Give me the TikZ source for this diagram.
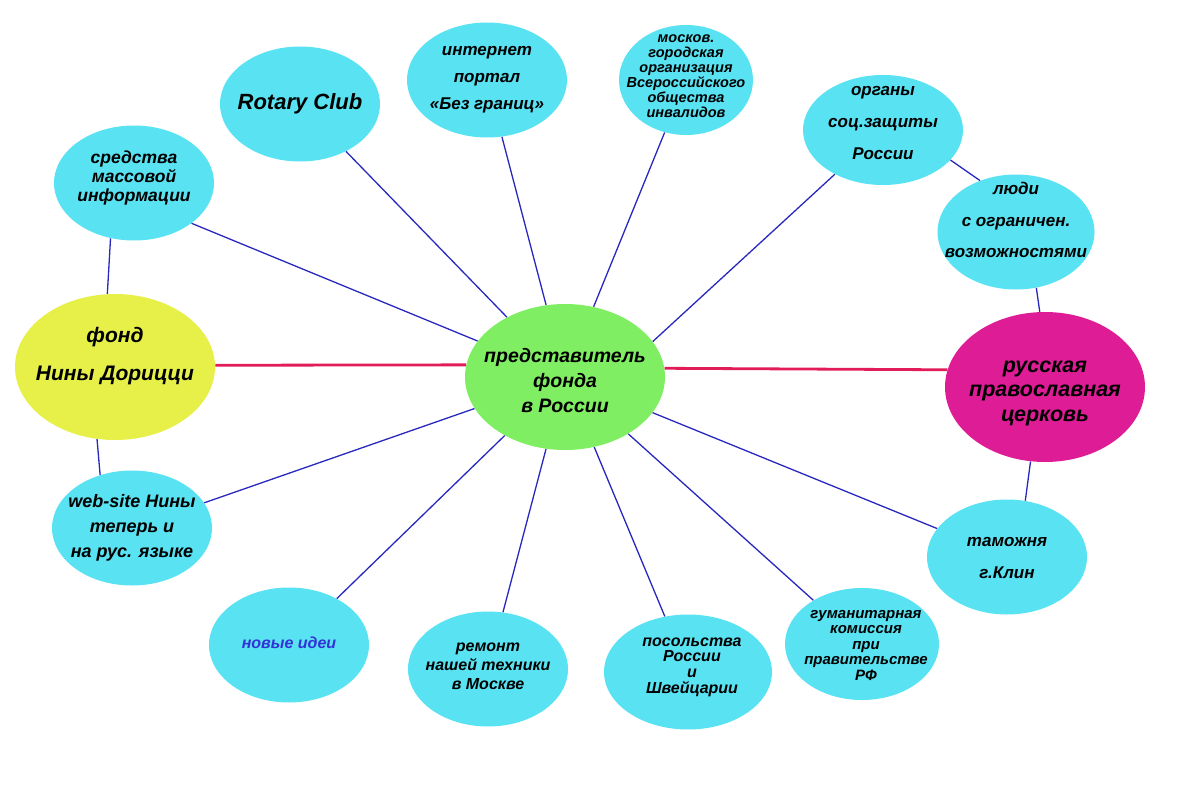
\documentclass[tikz,border=0pt]{standalone}
\usepackage{fontspec}
\setmainfont{Liberation Sans}
\usetikzlibrary{shapes.geometric}

\definecolor{bubblecyan}{RGB}{88,226,242}
\definecolor{centregreen}{RGB}{128,238,98}
\definecolor{fondyellow}{RGB}{230,240,72}
\definecolor{churchpink}{RGB}{222,28,150}
\definecolor{linkblue}{RGB}{40,40,190}
\definecolor{mainred}{RGB}{226,28,88}
\definecolor{ideablue}{RGB}{50,50,215}

\begin{document}
\begin{tikzpicture}[x=1pt,y=-1pt,semithick]
			\tikzstyle{bubble}=[ellipse,fill=bubblecyan,minimum width=160pt,minimum height=115pt,inner sep=0pt]
			\tikzstyle{bigbubble}=[bubble,minimum width=200pt,minimum height=146pt]
			\tikzstyle{txt}=[align=center,inner sep=0pt,font=\bfseries\itshape]
			\tikzstyle{link}=[draw=linkblue,line width=1.3pt]
			\tikzstyle{mainlink}=[draw=mainred,line width=2.8pt]
			
			\useasboundingbox (0,0) rectangle (1200,800);
			
			\node[bigbubble,fill=centregreen,label={[txt,yshift=-4pt,font=\bfseries\itshape\fontsize{19.5}{25}\selectfont]center:{представитель\\фонда\\в России}}] (centre) at (565,377) {};
			\node[bigbubble,fill=fondyellow,label={[txt,yshift=11pt,font=\bfseries\itshape\fontsize{21}{38}\selectfont]center:{фонд\\Нины Дорицци}}] (fond) at (115,367) {};
			\node[bigbubble,fill=churchpink,minimum height=150pt,label={[txt,yshift=-6pt,font=\bfseries\itshape\fontsize{21.5}{24.5}\selectfont]center:{русская\\православная\\церковь}}] (church) at (1045,387) {};
			
			\node[bubble,label={[txt,yshift=5pt,font=\bfseries\itshape\fontsize{17.5}{19}\selectfont]center:{средства\\массовой\\информации}}] (smi) at (134,183) {};
			\node[bubble,label={[txt,font=\bfseries\itshape\fontsize{22}{24}\selectfont]center:{Rotary Club}}] (rotary) at (300,104) {};
			\node[bubble,label={[txt,font=\bfseries\itshape\fontsize{17}{27}\selectfont]center:{интернет\\портал\\«Без границ»}}] (portal) at (487,80) {};
			\node[bubble,minimum width=134pt,minimum height=110pt,label={[txt,yshift=4pt,font=\bfseries\itshape\fontsize{14.5}{15}\selectfont]center:{москов.\\городская\\организация\\Всероссийского\\общества\\инвалидов}}] (vog) at (686,80) {};
			\node[bubble,minimum height=110pt,label={[txt,yshift=7pt,font=\bfseries\itshape\fontsize{17}{32}\selectfont]center:{органы\\соц.защиты\\России}}] (szn) at (883,130) {};
			\node[bubble,minimum width=157pt,label={[txt,yshift=12pt,font=\bfseries\itshape\fontsize{17}{31.5}\selectfont]center:{люди\\с ограничен.\\возможностями}}] (people) at (1016,232) {};
			\node[bubble,label={[txt,yshift=-1pt,font=\bfseries\itshape\fontsize{17}{32}\selectfont]center:{таможня\\г.Клин}}] (customs) at (1007,557) {};
			\node[bubble,minimum width=154pt,minimum height=112pt,label={[txt,xshift=4pt,yshift=-1pt,font=\bfseries\itshape\fontsize{15}{15.5}\selectfont]center:{гуманитарная\\комиссия\\при\\правительстве\\РФ}}] (komis) at (862,644) {};
			\node[bubble,minimum width=168pt,label={[txt,xshift=4pt,yshift=5pt,font=\bfseries\itshape\fontsize{16}{15.7}\selectfont]center:{посольства\\России\\и\\Швейцарии}}] (embassy) at (688,672) {};
			\node[bubble,label={[txt,yshift=3pt,font=\bfseries\itshape\fontsize{16}{19}\selectfont]center:{ремонт\\нашей техники\\в Москве}}] (repair) at (488,669) {};
			\node[bubble,label={[txt,text=ideablue,yshift=2pt,font=\bfseries\itshape\fontsize{16}{19}\selectfont]center:{новые идеи}}] (ideas) at (289,645) {};
			\node[bubble,label={[txt,font=\bfseries\itshape\fontsize{18}{25}\selectfont]center:{web-site Нины\\теперь и\\на рус. языке}}] (website) at (132,528) {};
			
			\path (fond.1) edge[mainlink] (centre.173)
			(centre.5) edge[mainlink] (church.170)
			(smi.325) edge[link] (centre)
			(rotary) edge[link] (centre)
			(portal) edge[link] (centre)
			(vog) edge[link] (centre)
			(szn) edge[link] (centre.22)
			(szn.336) edge[link] (people.125)
			(people.290) edge[link] (church.94)
			(smi.247) edge[link] (fond.96)
			(fond.256) edge[link] (website.121)
			(website) edge[link] (centre)
			(ideas) edge[link] (centre)
			(repair) edge[link] (centre)
			(embassy) edge[link] (centre)
			(komis) edge[link] (centre)
			(customs) edge[link] (centre)
			(customs.72) edge[link] (church.259)
			;
\end{tikzpicture}
\end{document}
